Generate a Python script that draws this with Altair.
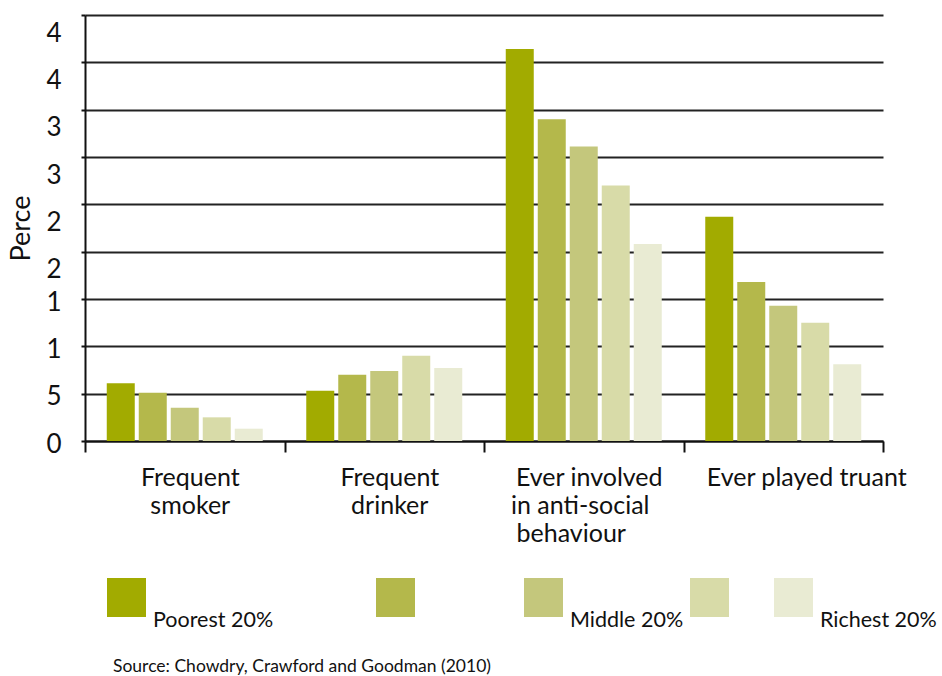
import altair as alt
import pandas as pd

categories = ["Frequent smoker", "Frequent drinker",
              "Ever involved in anti-social behaviour", "Ever played truant"]
groups = ["Poorest 20%", "Q2", "Middle 20%", "Q4", "Richest 20%"]
colors = ["#a2ab00", "#b4b84b", "#c4c77c", "#d8dba8", "#e9ebd3"]

poorest = [6.1, 5.3, 41.4, 23.7]
q2 = [5.1, 7.0, 34.0, 16.8]
middle = [3.5, 7.4, 31.1, 14.3]
q4 = [2.5, 9.0, 27.0, 12.5]
richest = [1.3, 7.7, 20.8, 8.1]

y_ticks = [0, 5, 10, 15, 20, 25, 30, 35, 40, 45]

rows = []
for g, vals in zip(groups, [poorest, q2, middle, q4, richest]):
    for c, v in zip(categories, vals):
        rows.append({"category": c, "group": g, "value": v})
df = pd.DataFrame(rows)

FONT = "Lato"
B = "\u2800"  # blank filler that keeps its width

x_label_expr = (
    "datum.label == 'Frequent smoker' ? ['Frequent', 'smoker'] : "
    "datum.label == 'Frequent drinker' ? ['Frequent', 'drinker'] : "
    f"datum.label == 'Ever played truant' ? '{B * 2}Ever played truant' : "
    "datum.label == 'Ever involved in anti-social behaviour' ? "
    f"['Ever involved', 'in anti-social{B}', 'behaviour{B * 2}'] : ''"
)

y_label_expr = "datum.value >= 20 ? ['', substring(datum.label, 0, 1)] : substring(datum.label, 0, 1)"

legend_expr = (
    f"datum.label == 'Q2' ? ['', '', '{B * 6}'] : "
    f"datum.label == 'Q4' ? ['', '', '{B * 2}'] : "
    f"datum.label == 'Poorest 20%' ? ['', '', 'Poorest 20%{B * 6}'] : "
    "['', '', datum.label]"
)

chart = alt.Chart(df).mark_bar().encode(
    x=alt.X("category:N", sort=categories,
            scale=alt.Scale(paddingInner=0, paddingOuter=0),
            axis=alt.Axis(title=None, labelAngle=0, tickBand="extent",
                          labelExpr=x_label_expr, labelLimit=400,
                          labelFont=FONT, labelFontSize=25, labelColor="#111",
                          labelLineHeight=28, labelBaseline="top",
                          labelPadding=13, labelOffset=5,
                          tickSize=11, tickWidth=2,
                          tickColor="#111", domainColor="#111", domainWidth=2,
                          grid=False)),
    xOffset=alt.XOffset("group:N", sort=groups,
                        scale=alt.Scale(paddingInner=0.125, paddingOuter=0.68)),
    y=alt.Y("value:Q", scale=alt.Scale(domain=[0, 45], nice=False),
            axis=alt.Axis(title="Perce", values=y_ticks,
                          labelExpr=y_label_expr, labelOverlap=False,
                          labelFont=FONT, labelFontSize=26, labelColor="#111",
                          labelPadding=20, labelOffset=3, labelLineHeight=15,
                          titleFont=FONT, titleFontSize=27, titleFontWeight="normal",
                          titleColor="#111", titlePadding=10,
                          tickSize=4, tickWidth=2, tickColor="#111",
                          domainColor="#111", domainWidth=2,
                          grid=True, gridColor="#222", gridWidth=2)),
    color=alt.Color("group:N", sort=groups,
                    scale=alt.Scale(domain=groups, range=colors),
                    legend=alt.Legend(title=None, orient="none", legendX=22, legendY=563,
                                      direction="horizontal", columns=5, gridAlign="none",
                                      symbolType="square", symbolSize=1521,
                                      symbolStrokeWidth=0, symbolOpacity=1,
                                      labelExpr=legend_expr, labelBaseline="middle",
                                      labelFont=FONT, labelFontSize=21.5, labelColor="#111",
                                      labelOffset=7, labelLimit=500, columnPadding=6,
                                      padding=0)),
).properties(
    width=798, height=426,
    title=alt.TitleParams("Source: Chowdry, Crawford and Goodman (2010)",
                          orient="bottom", anchor="start", frame="group",
                          dx=28, offset=3, font=FONT, fontSize=17.5,
                          fontWeight="normal", color="#111"),
    autosize=alt.AutoSizeParams(type="none"),
    padding={"left": 85, "top": 15, "right": 59, "bottom": 235},
).configure_view(stroke=None)

chart.save("out.html", embed_options={"renderer": "svg", "actions": False})
